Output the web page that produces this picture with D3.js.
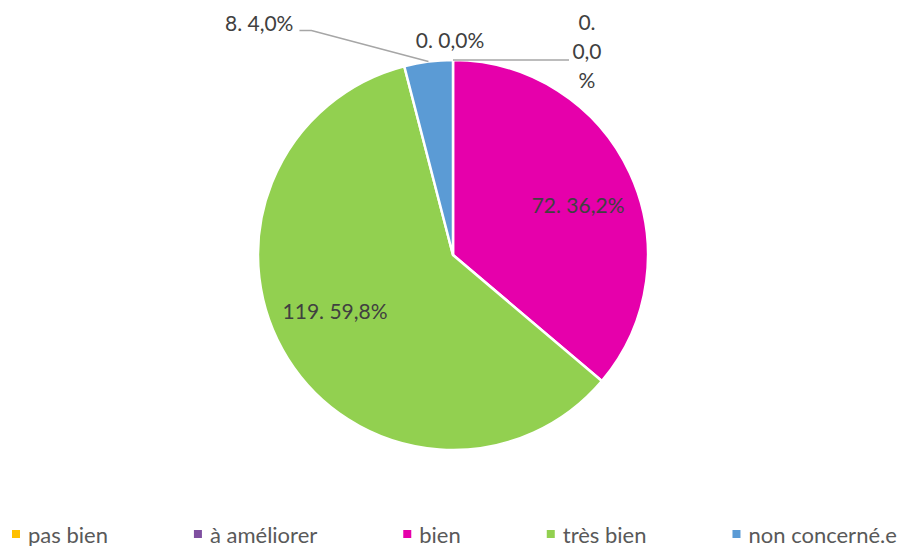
<!DOCTYPE html>
<html>
<head>
<meta charset="utf-8">
<script src="https://cdn.jsdelivr.net/npm/d3@7"></script>
<style>
  html, body { margin: 0; padding: 0; background: #fff; }
  svg { display: block; }
  text { font-family: Lato, "Open Sans", sans-serif; }
</style>
</head>
<body>
<svg id="chart" width="909" height="546"></svg>
<script>
const categories = ["pas bien", "à améliorer", "bien", "très bien", "non concerné.e"];
const values = [0, 0, 72, 119, 8];
const colors = ["#FFC000", "#7F4FA0", "#E600AB", "#92D050", "#5B9BD5"];

const W = 909, H = 546;
const cx = 453, cy = 255, R = 195;
const svg = d3.select("#chart");

const total = d3.sum(values);
const fmtPct = v => (v / total * 100).toFixed(1).replace(".", ",") + "%";
const labelText = v => `${v}. ${fmtPct(v)}`;

const pie = d3.pie().sort(null).value(d => d.value);
const data = pie(categories.map((c, i) => ({ cat: c, value: values[i], color: colors[i], i })));
const arc = d3.arc().innerRadius(0).outerRadius(R);
const labelArc = d3.arc().innerRadius(R * 0.69).outerRadius(R * 0.69);

const g = svg.append("g").attr("transform", `translate(${cx},${cy})`);
g.selectAll("path.slice")
  .data(data.filter(d => d.data.value > 0))
  .join("path")
  .attr("class", "slice")
  .attr("d", arc)
  .attr("fill", d => d.data.color)
  .attr("stroke", "#fff")
  .attr("stroke-width", 2.5)
  .attr("stroke-linejoin", "round");

const edge = d => {
  const a = (d.startAngle + d.endAngle) / 2;
  return [R * Math.sin(a), -R * Math.cos(a)];
};

const labelColor = "#404040";
const lineColor = "#A6A6A6";
const fs = 21;

data.forEach(d => {
  const v = d.data.value;
  const p = d.data.value / total;
  const txt = labelText(v);
  if (p > 0.1) {
    const [x, y] = labelArc.centroid(d);
    g.append("text")
      .attr("x", x + (d.data.i === 3 ? -4 : 3))
      .attr("y", y + (d.data.i === 3 ? -16 : 6))
      .attr("text-anchor", "middle")
      .attr("dominant-baseline", "central")
      .attr("fill", labelColor)
      .attr("font-size", fs)
      .text(txt);
  } else if (d.data.i === 4) {
    const [ex, ey] = edge(d);
    const kx = ex - 117, ky = ey - 31;
    g.append("polyline")
      .attr("points", [[ex, ey], [kx, ky], [kx - 12, ky]].map(q => q.join(",")).join(" "))
      .attr("fill", "none").attr("stroke", lineColor).attr("stroke-width", 1.5);
    g.append("text")
      .attr("x", kx - 18).attr("y", ky)
      .attr("text-anchor", "end")
      .attr("fill", labelColor).attr("font-size", fs)
      .text(txt);
  } else if (d.data.i === 0) {
    const [ex, ey] = edge(d);
    const kx = ex + 116;
    g.append("polyline")
      .attr("points", [[ex, ey], [kx, ey]].map(q => q.join(",")).join(" "))
      .attr("fill", "none").attr("stroke", lineColor).attr("stroke-width", 1.5);
    const parts = [`${v}.`, fmtPct(v).replace("%", ""), "%"];
    const t = g.append("text")
      .attr("text-anchor", "middle")
      .attr("fill", labelColor).attr("font-size", fs);
    parts.forEach((s, k) => {
      t.append("tspan").attr("x", kx + 18).attr("y", ey - 30 + k * 29).text(s);
    });
  } else {
    const [ex, ey] = edge(d);
    g.append("text")
      .attr("x", ex - 3).attr("y", ey - 12)
      .attr("text-anchor", "middle")
      .attr("fill", labelColor).attr("font-size", fs)
      .text(txt);
  }
});

// Legend
const leg = svg.append("g").attr("transform", `translate(12, 534)`);
let xPos = 0;
categories.forEach((c, i) => {
  const item = leg.append("g").attr("transform", `translate(${xPos},0)`);
  item.append("rect").attr("x", 0).attr("y", -4).attr("width", 8).attr("height", 8).attr("fill", colors[i]);
  const t = item.append("text").attr("x", 16).attr("y", 0)
    .attr("dominant-baseline", "central")
    .attr("fill", "#595959").attr("font-size", 22).text(c);
  xPos += 16 + t.node().getComputedTextLength() + 86;
});
</script>
</body>
</html>
